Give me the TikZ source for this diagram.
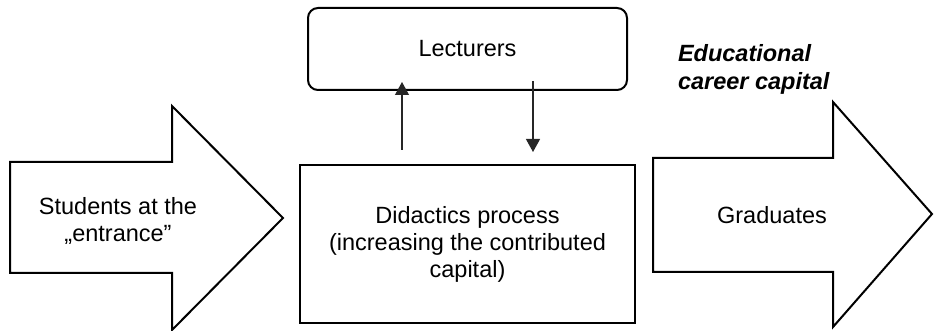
\documentclass[tikz,border=0pt]{standalone}
\usepackage{fontspec}
\setmainfont{Liberation Sans}
\usetikzlibrary{positioning, arrows.meta}

\begin{document}
\begin{tikzpicture}[x=1pt, y=-1pt, line width=2pt, line join=miter,
    txt/.style={font=\fontsize{23.5}{27}\selectfont, align=center},
    feedback/.style={line width=1.2pt, black!85, -{Triangle[width=14pt,length=13pt]}}]
    \useasboundingbox (0,0) rectangle (935,331);
    % big arrow in
    \draw (10,162) -- (172,162) -- (172,106) -- (283,218) -- (172,330) -- (172,273) -- (10,273) -- cycle;
    \node[txt] (students) at (118,221) {Students at the\\„entrance”};
    % the two boxes
    \node[draw, rounded corners=10pt, minimum width=319, minimum height=82, txt] (lecturers) at (467.5,49) {Lecturers};
    \node[draw, minimum width=335, minimum height=158, txt] (didactics) at (467.5,244) {Didactics process\\(increasing the contributed\\capital)};
    \coordinate (up1) at (402,150);
    \coordinate (up2) at (402,82);
    \coordinate (down1) at (533,81);
    \coordinate (down2) at (533,152);
    \draw[feedback] (up1) -- (up2);
    \draw[feedback] (down1) -- (down2);
    % big arrow out
    \draw (653,158) -- (833,158) -- (833,102) -- (932,214) -- (833,327) -- (833,272) -- (653,272) -- cycle;
    \node[txt] (graduates) at (772,215) {Graduates};
    \node[txt, align=left, anchor=west, inner sep=0pt, font=\fontsize{23.5}{28}\selectfont\bfseries\itshape] (capital) at (677,69) {Educational\\career capital};
\end{tikzpicture}
\end{document}
